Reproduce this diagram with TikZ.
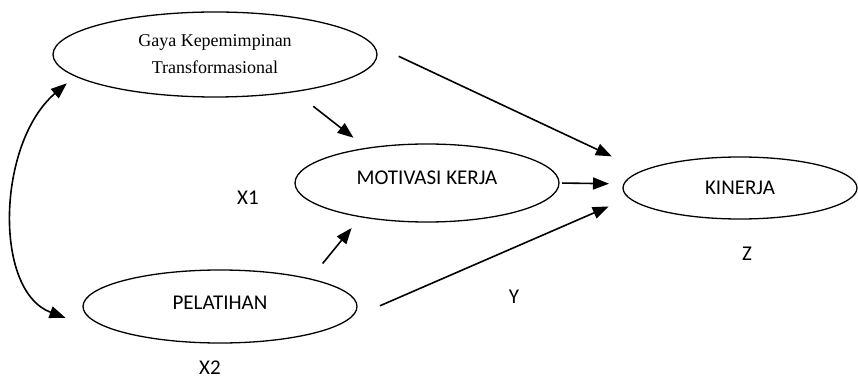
\documentclass[tikz,border=0pt]{standalone}
\usepackage{fontspec}
\setmainfont{Carlito}
\newfontfamily\timesf{Liberation Serif}
\usetikzlibrary{arrows.meta,shapes.geometric}
\begin{document}
\begin{tikzpicture}[x=1pt,y=-1pt,
  lat/.style={draw, ellipse, line width=1.3pt, inner sep=0pt, outer sep=0pt,
    font=\fontsize{21}{25}\selectfont},
  arr/.style={-{Triangle[length=16pt,width=12pt]}, line width=1.6pt},
  dbl/.style={{Triangle[length=16pt,width=12pt]}-{Triangle[length=16pt,width=12pt]}, line width=1.6pt},
  lbl/.style={font=\fontsize{21}{25}\selectfont, inner sep=0pt}]
\useasboundingbox (0,0) rectangle (858,379);
\node[lat, minimum width=324pt, minimum height=85pt, align=center,
  font=\timesf\fontsize{18}{27}\selectfont] (gaya) at (215,54.5)
  {Gaya Kepemimpinan\\Transformasional};
\node[lat, minimum width=264pt, minimum height=78pt, text height=14pt, text depth=10.5pt]
  (mot) at (427,183) {MOTIVASI KERJA};
\node[lat, minimum width=234pt, minimum height=62pt, text height=14pt, text depth=0.5pt]
  (kin) at (740,188) {KINERJA};
\node[lat, minimum width=274pt, minimum height=73pt, text height=14pt, text depth=7.5pt]
  (pel) at (220,306.5) {PELATIHAN};
\node[lbl] (x1) at (248,198) {X1};
\node[lbl] (x2) at (210,368) {X2};
\node[lbl] (y) at (514,297) {Y};
\node[lbl] (z) at (747,254) {Z};
\draw[arr, shorten <=30pt, shorten >=34pt] (gaya.4) -- (kin.170.6);
\draw[arr, shorten <=24pt, shorten >=17pt] (gaya.-25.3) -- (mot.150.3);
\draw[arr, shorten <=3pt, shorten >=15pt] (mot.-0.4) -- (kin.178);
\draw[arr, shorten <=20pt, shorten >=14.5pt] (pel.17.1) -- (mot.207.8);
\draw[arr, shorten <=35.5pt, shorten >=22pt] (pel.-6.9) -- (kin.185.3);
\draw[dbl] ([shift={(-18,3.5)}]gaya.191.1) .. controls (-3,143) and (-7,291) .. ([shift={(-22,2)}]pel.184.9);
\end{tikzpicture}
\end{document}
